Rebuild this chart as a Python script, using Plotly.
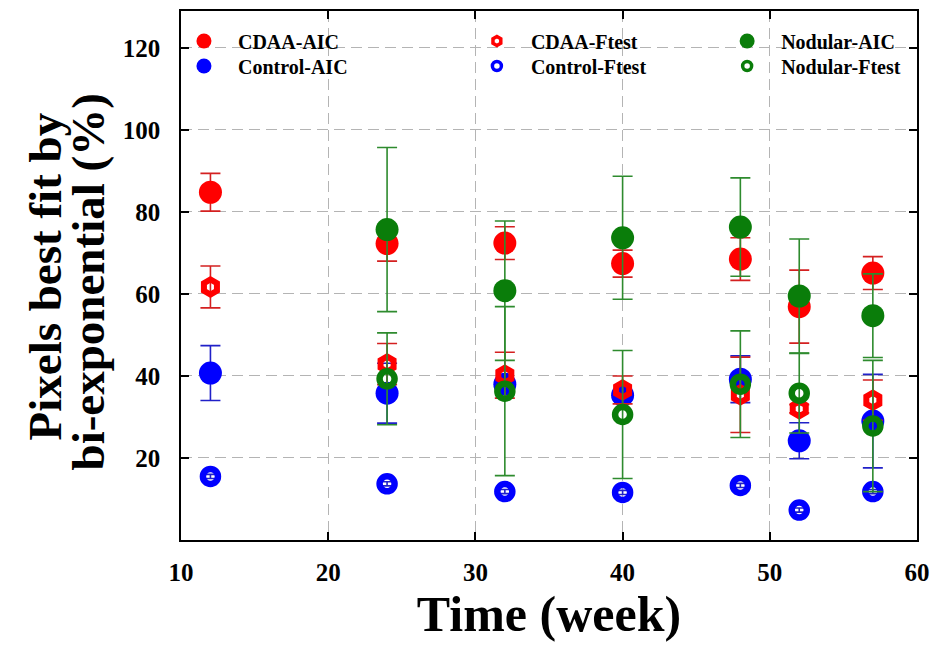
import plotly.graph_objects as go

weeks = [12, 24, 32, 40, 48, 52, 57]
nod_weeks = [24, 32, 40, 48, 52, 57]

cdaa_aic = [84.8, 72.3, 72.4, 67.4, 68.5, 56.9, 65.1]
cdaa_aic_err = [4.6, 4.3, 4.0, 3.3, 5.2, 8.9, 4.0]
cdaa_ftest = [61.7, 42.9, 40.2, 36.6, 35.4, 32.0, 34.1]
cdaa_ftest_err = [5.1, 5.0, 5.6, 3.4, 9.2, 1.0, 4.9]
control_aic = [40.7, 35.8, 38.0, 35.3, 39.2, 24.2, 29.0]
control_aic_err = [6.7, 7.3, 1.0, 1.0, 5.7, 4.4, 11.4]
control_ftest = [15.5, 13.7, 11.8, 11.6, 13.3, 7.3, 11.8]
control_ftest_err = [0.5, 0.5, 0.5, 0.5, 0.5, 0.5, 0.5]
nod_aic = [75.7, 60.8, 73.7, 76.3, 59.5, 54.7]
nod_aic_err = [20.0, 17.0, 15.0, 12.0, 13.9, 10.2]
nod_ftest = [39.3, 36.3, 30.6, 38.0, 35.8, 27.8]
nod_ftest_err = [11.2, 20.6, 15.6, 13.0, 9.7, 16.0]

x_ticks = [10, 20, 30, 40, 50, 60]
y_ticks = [20, 40, 60, 80, 100, 120]
y_title_lines = ["Pixels best fit by", "bi-exponential (%)"]
x_title = "Time (week)"

RED, BLUE, GREEN = "#ff0000", "#0000ff", "#0a7d0a"
RED_E, BLUE_E, GREEN_E = "#d42020", "#2020c8", "#2e8b2e"
FONT = "Liberation Serif, Times New Roman, serif"

fig = go.Figure()

def add_series(x, y, err, color, ecolor, symbol, size, lw):
    fig.add_trace(go.Scatter(
        x=x, y=y, mode="markers", showlegend=False,
        error_y=dict(type="data", array=err, visible=True, color=ecolor,
                     thickness=1.6, width=10),
        marker=dict(symbol=symbol, size=size, color=color,
                    line=dict(width=lw, color=color)),
    ))

add_series(weeks, control_aic, control_aic_err, BLUE, BLUE_E, "circle", 23, 0)
add_series(weeks, control_ftest, control_ftest_err, BLUE, BLUE_E, "circle-open", 15, 6.5)
add_series(weeks, cdaa_aic, cdaa_aic_err, RED, RED_E, "circle", 23, 0)
add_series(weeks, cdaa_ftest, cdaa_ftest_err, RED, RED_E, "hexagon-open", 15, 6)
add_series(nod_weeks, nod_aic, nod_aic_err, GREEN, GREEN_E, "circle", 23, 0)
add_series(nod_weeks, nod_ftest, nod_ftest_err, GREEN, GREEN_E, "circle-open", 15, 6.5)

# one single-item legend per entry, placed on a 3 x 2 grid
legend_rows = {"legend": 0, "legend2": 1, "legend3": 0, "legend4": 1, "legend5": 0, "legend6": 1}
legend_cols = {"legend": 0, "legend2": 0, "legend3": 1, "legend4": 1, "legend5": 2, "legend6": 2}

def add_legend(name, color, symbol, size, lw, legend):
    fig.add_trace(go.Scatter(
        x=[None], y=[None], mode="markers", name=name, legend=legend,
        marker=dict(symbol=symbol, size=size, color=color,
                    line=dict(width=lw, color=color)),
    ))

add_legend("CDAA-AIC", RED, "circle", 15, 0, "legend")
add_legend("Control-AIC", BLUE, "circle", 15, 0, "legend2")
add_legend("CDAA-Ftest", RED, "hexagon-open", 9, 3.5, "legend3")
add_legend("Control-Ftest", BLUE, "circle-open", 9, 3.5, "legend4")
add_legend("Nodular-AIC", GREEN, "circle", 15, 0, "legend5")
add_legend("Nodular-Ftest", GREEN, "circle-open", 9, 3.5, "legend6")

leg_common = dict(font=dict(family=FONT, size=20, color="black", weight="bold"),
                  bgcolor="rgba(0,0,0,0)", itemwidth=58,
                  yanchor="middle", xanchor="left")
col_x = [-0.015, 0.383, 0.723]
row_y = [0.9433, 0.896]
legend_layout = {k: dict(x=col_x[legend_cols[k]], y=row_y[legend_rows[k]], **leg_common)
                 for k in legend_rows}

axis_common = dict(showline=True, linecolor="black", linewidth=1.5, mirror="ticks",
                   ticks="inside", ticklen=8, tickwidth=1.5, tickcolor="black",
                   showgrid=True, gridcolor="#b4b4b4", gridwidth=1, griddash="11px,6px",
                   zeroline=False,
                   tickfont=dict(family=FONT, size=25, color="black", weight="bold"))

title_font = dict(family=FONT, size=47, color="black", weight="bold")

fig.update_layout(
    width=933, height=651,
    margin=dict(l=181, r=16, t=11, b=111, autoexpand=False),
    plot_bgcolor="white", paper_bgcolor="white",
    xaxis=dict(range=[10, 60], tickvals=x_ticks, ticklabelstandoff=9,
               title=dict(text=x_title, standoff=8,
                          font=dict(family=FONT, size=50, color="black", weight="bold")),
               **axis_common),
    yaxis=dict(range=[0, 129], tickvals=y_ticks, ticklabelstandoff=14,
               **axis_common),
    annotations=[
        dict(text=y_title_lines[0], xref="paper", yref="paper", x=0, y=0.5,
             xshift=-137, yshift=-1, textangle=-90, showarrow=False,
             xanchor="center", yanchor="middle", font=title_font),
        dict(text=y_title_lines[1], xref="paper", yref="paper", x=0, y=0.5,
             xshift=-94, yshift=-7, textangle=-90, showarrow=False,
             xanchor="center", yanchor="middle", font=title_font),
    ],
    **legend_layout,
)

fig.write_html("out.html")
